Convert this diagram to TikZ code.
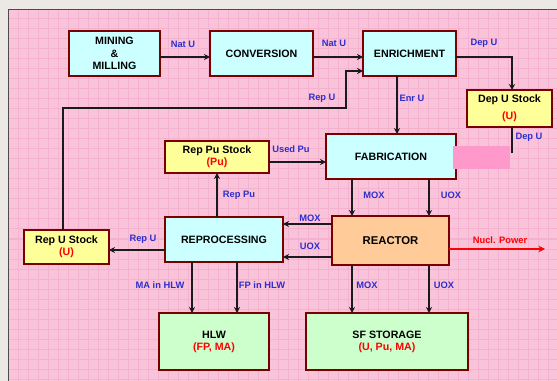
\documentclass[tikz,border=0pt]{standalone}
\usepackage{fontspec}
\setmainfont{Liberation Sans}
\usetikzlibrary{arrows.meta}
\definecolor{winbg}{HTML}{ECE9E4}
\definecolor{pinkbg}{HTML}{F9C4DA}
\definecolor{pinkgrid}{HTML}{F5B2D0}
\definecolor{boxborder}{HTML}{7A0000}
\definecolor{cyanfill}{HTML}{CCFFFF}
\definecolor{yellowfill}{HTML}{FFFF99}
\definecolor{orangefill}{HTML}{FFCC99}
\definecolor{greenfill}{HTML}{CCFFCC}
\definecolor{lblblue}{HTML}{2E2ECC}
\definecolor{patch}{HTML}{FF99CC}
\definecolor{lnk}{HTML}{1A1A1A}
\tikzset{
  box/.style={draw=boxborder, line width=2pt*0.75, inner sep=0pt, outer sep=0pt, align=center,
    font=\fontsize{8}{9.5}\selectfont\bfseries, text=black},
  cbox/.style={box, fill=cyanfill},
  ybox/.style={box, fill=yellowfill},
  obox/.style={box, fill=orangefill},
  gbox/.style={box, fill=greenfill},
  flow/.style={draw=lnk, line width=2.2pt*0.75, -{Stealth[length=4.5pt,width=4.5pt]}},
  plain/.style={draw=lnk, line width=2.2pt*0.75},
  redflow/.style={draw=red, line width=2pt*0.75, -{Stealth[length=5pt,width=5pt]}},
  lbl/.style={font=\fontsize{7}{8}\selectfont\bfseries, text=lblblue, inner sep=0pt},
  rlbl/.style={font=\fontsize{7}{8}\selectfont\bfseries, text=red, inner sep=0pt},
}
\newcommand{\sub}[1]{\\[-0.5pt]\textcolor{red}{#1}}
\begin{document}
\begin{tikzpicture}[x=0.75pt, y=-0.75pt]
  % background
  \fill[winbg] (0,0) rectangle (557,381);
  \useasboundingbox (0,0) rectangle (557,381);
  \fill[pinkbg] (8,10) rectangle (557,381);
  \foreach \g in {18,28,...,548} \draw[pinkgrid, line width=0.75pt] (\g,10) -- (\g,381);
  \foreach \g in {19,29,...,379} \draw[pinkgrid, line width=0.75pt] (8,\g) -- (557,\g);
  \draw[black!70, line width=0.75pt] (8,381) -- (8,10) -- (557,10);

  % boxes
  \node[cbox, minimum width=91*0.75pt, minimum height=45*0.75pt] (mm) at (114.5,53.5) {MINING\\\&\\MILLING};
  \node[cbox, minimum width=103*0.75pt, minimum height=45*0.75pt] (conv) at (261.5,53.5) {CONVERSION};
  \node[cbox, minimum width=93*0.75pt, minimum height=45*0.75pt] (enr) at (409.5,53.5) {ENRICHMENT};
  \node[ybox, minimum width=85*0.75pt, minimum height=37*0.75pt] (dep) at (509.5,108.5) {Dep U Stock\\[3pt]\textcolor{red}{(U)}};
  \node[ybox, minimum width=104*0.75pt, minimum height=32*0.75pt] (reppu) at (217,157) {Rep Pu Stock\sub{(Pu)}};
  \node[cbox, minimum width=130*0.75pt, minimum height=45*0.75pt] (fab) at (391,156.5) {FABRICATION};
  \node[cbox, minimum width=118*0.75pt, minimum height=45*0.75pt] (reproc) at (224,239.5) {REPROCESSING};
  \node[obox, minimum width=117*0.75pt, minimum height=49*0.75pt, font=\fontsize{8.5}{10}\selectfont\bfseries] (reactor) at (390.5,240.5) {REACTOR};
  \node[ybox, minimum width=85*0.75pt, minimum height=34*0.75pt] (repu) at (66.5,247) {Rep U Stock\sub{(U)}};
  \node[gbox, minimum width=110*0.75pt, minimum height=57*0.75pt] (hlw) at (214,341.5) {HLW\sub{(FP, MA)}};
  \node[gbox, minimum width=162*0.75pt, minimum height=57*0.75pt] (sf) at (387,341.5) {SF STORAGE\sub{(U, Pu, MA)}};

  % connectors
  \draw[flow] (mm.east |- 0,57) -- (conv.west |- 0,57);
  \draw[flow] (conv.east |- 0,57) -- (enr.west |- 0,57);
  \draw[flow] (repu.north -| 63,0) -- (63,108) -- (346,108) -- (346,71) -- (enr.west |- 0,71);
  \draw[flow] (enr.east |- 0,57) -- (512,57) -- (dep.north -| 512,0);
  \draw[flow] (enr.south -| 397,0) -- (fab.north -| 397,0);
  \coordinate (depend) at (512,153);
  \draw[plain] (dep.south -| 512,0) -- (depend);
  \draw[flow] (reppu.east |- 0,162) -- (fab.west |- 0,162);
  \draw[flow] (reproc.north -| 217,0) -- (reppu.south -| 217,0);
  \draw[flow] (reproc.west |- 0,250) -- (repu.east |- 0,250);
  \draw[flow] (fab.south -| 352,0) -- (reactor.north -| 352,0);
  \draw[flow] (fab.south -| 429,0) -- (reactor.north -| 429,0);
  \draw[flow] (reactor.west |- 0,224) -- (reproc.east |- 0,224);
  \draw[flow] (reactor.west |- 0,257) -- (reproc.east |- 0,257);
  \coordinate (power) at (545,249);
  \draw[redflow] (reactor.east |- 0,249) -- (power);
  \draw[flow] (reproc.south -| 192,0) -- (hlw.north -| 192,0);
  \draw[flow] (reproc.south -| 237,0) -- (hlw.north -| 237,0);
  \draw[flow] (reactor.south -| 352,0) -- (sf.north -| 352,0);
  \draw[flow] (reactor.south -| 429,0) -- (sf.north -| 429,0);

  % patch
  \fill[patch] (453,146) rectangle (510,169);

  % labels
  \node[lbl] (l1) at (183,44) {Nat U};
  \node[lbl] (l2) at (334,43) {Nat U};
  \node[lbl] (l3) at (484,43) {Dep U};
  \node[lbl] (l4) at (322,98) {Rep U};
  \node[lbl] (l5) at (412,98) {Enr U};
  \node[lbl] (l6) at (529,137) {Dep U};
  \node[lbl] (l7) at (291,149) {Used Pu};
  \node[lbl] (l8) at (239,195) {Rep Pu};
  \node[lbl] (l9) at (374,195) {MOX};
  \node[lbl] (l10) at (451,195) {UOX};
  \node[lbl] (l11) at (310,218) {MOX};
  \node[lbl] (l12) at (310,246) {UOX};
  \node[lbl] (l13) at (143,239) {Rep U};
  \node[rlbl] (l14) at (500,240) {Nucl. Power};
  \node[lbl] (l15) at (160,285) {MA in HLW};
  \node[lbl] (l16) at (262,285) {FP in HLW};
  \node[lbl] (l17) at (367,285) {MOX};
  \node[lbl] (l18) at (444,285) {UOX};
\end{tikzpicture}
\end{document}
